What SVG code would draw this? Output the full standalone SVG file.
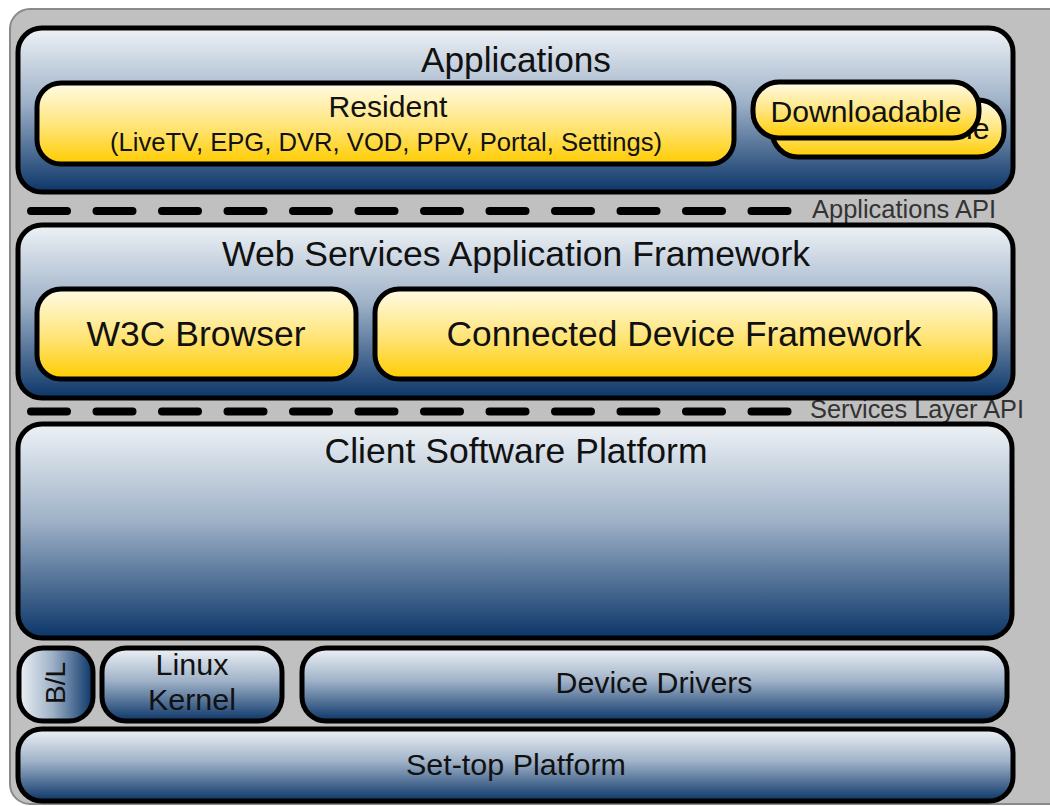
<svg xmlns="http://www.w3.org/2000/svg" width="1050" height="806" viewBox="0 0 1050 806">
  <defs>
    <linearGradient id="blue" x1="0" y1="0" x2="0" y2="1">
      <stop offset="0" stop-color="#eef2f6"/>
      <stop offset="0.45" stop-color="#9fb2c8"/>
      <stop offset="1" stop-color="#0b3568"/>
    </linearGradient>
    <linearGradient id="blueH" x1="0" y1="0" x2="1" y2="0">
      <stop offset="0" stop-color="#eef2f6"/>
      <stop offset="0.45" stop-color="#9fb2c8"/>
      <stop offset="1" stop-color="#0b3568"/>
    </linearGradient>
    <linearGradient id="yellow" x1="0" y1="0" x2="0" y2="1">
      <stop offset="0" stop-color="#fffbe6"/>
      <stop offset="0.5" stop-color="#ffe680"/>
      <stop offset="1" stop-color="#ffcc00"/>
    </linearGradient>
    <style>
      .box { stroke: #000; stroke-width: 5; }
      .b { fill: url(#blue); }
      .bh { fill: url(#blueH); }
      .y { fill: url(#yellow); }
      text { font-family: "Liberation Sans", Arial, sans-serif; fill: #111; text-anchor: middle; }
      .api { fill: #333; text-anchor: start; font-size: 25px; }
      .dash { stroke: #000; stroke-width: 8; stroke-linecap: round; stroke-dasharray: 36 29.5; fill: none; }
    </style>
  </defs>

  <rect x="0" y="0" width="1050" height="806" fill="#ffffff"/>
  <rect id="frame" x="10" y="9" width="1070" height="795" rx="20" fill="#c0c0c0" stroke="#8a8a8a" stroke-width="2"/>

  <g id="applications">
    <rect class="box b" x="18" y="28" width="995" height="164" rx="24"/>
    <text x="516" y="72" font-size="35" textLength="190" lengthAdjust="spacingAndGlyphs">Applications</text>
  </g>
  <g id="resident">
    <rect class="box y" x="37" y="83" width="697" height="81" rx="24"/>
    <text x="388" y="117" font-size="30" textLength="119" lengthAdjust="spacingAndGlyphs">Resident</text>
    <text x="386" y="151" font-size="25" textLength="552" lengthAdjust="spacingAndGlyphs">(LiveTV, EPG, DVR, VOD, PPV, Portal, Settings)</text>
  </g>
  <g id="downloadable-back">
    <rect class="box y" x="772" y="100" width="232" height="57" rx="26"/>
    <text x="894" y="139" font-size="30" textLength="191" lengthAdjust="spacingAndGlyphs">Downloadable</text>
  </g>
  <g id="downloadable">
    <rect class="box y" x="753" y="82" width="226" height="56" rx="26"/>
    <text x="866" y="122" font-size="30" textLength="191" lengthAdjust="spacingAndGlyphs">Downloadable</text>
  </g>

  <g id="connectors">
    <line class="dash" x1="31" y1="211" x2="790" y2="211"/>
    <line class="dash" x1="31" y1="411.5" x2="790" y2="411.5"/>
  </g>
  <text class="api" x="812" y="218" textLength="184" lengthAdjust="spacingAndGlyphs">Applications API</text>
  <text class="api" x="810" y="418" textLength="214" lengthAdjust="spacingAndGlyphs">Services Layer API</text>

  <g id="web-services">
    <rect class="box b" x="18" y="225" width="995" height="173" rx="24"/>
    <text x="516" y="266" font-size="35" textLength="588" lengthAdjust="spacingAndGlyphs">Web Services Application Framework</text>
  </g>
  <g id="w3c-browser">
    <rect class="box y" x="37" y="289" width="319" height="90" rx="24"/>
    <text x="196" y="346" font-size="35" textLength="219" lengthAdjust="spacingAndGlyphs">W3C Browser</text>
  </g>
  <g id="cdf">
    <rect class="box y" x="375" y="289" width="620" height="90" rx="24"/>
    <text x="684" y="346" font-size="35" textLength="475" lengthAdjust="spacingAndGlyphs">Connected Device Framework</text>
  </g>

  <g id="client-software-platform">
    <rect class="box b" x="18" y="424" width="994" height="214" rx="24"/>
    <text x="516" y="463" font-size="35" textLength="383" lengthAdjust="spacingAndGlyphs">Client Software Platform</text>
  </g>

  <g id="bl">
    <rect class="box bh" x="19" y="648" width="74" height="73" rx="24"/>
    <text transform="translate(65,683) rotate(-90)" font-size="28">B/L</text>
  </g>
  <g id="linux-kernel">
    <rect class="box b" x="102" y="648" width="180" height="73" rx="24"/>
    <text x="192" y="675" font-size="30" textLength="73" lengthAdjust="spacingAndGlyphs">Linux</text>
    <text x="192" y="710" font-size="30" textLength="88" lengthAdjust="spacingAndGlyphs">Kernel</text>
  </g>
  <g id="device-drivers">
    <rect class="box b" x="302" y="648" width="705" height="73" rx="24"/>
    <text x="654" y="693" font-size="30" textLength="197" lengthAdjust="spacingAndGlyphs">Device Drivers</text>
  </g>
  <g id="set-top-platform">
    <rect class="box b" x="18" y="729" width="995" height="72" rx="24"/>
    <text x="516" y="775" font-size="30" textLength="220" lengthAdjust="spacingAndGlyphs">Set-top Platform</text>
  </g>
</svg>
